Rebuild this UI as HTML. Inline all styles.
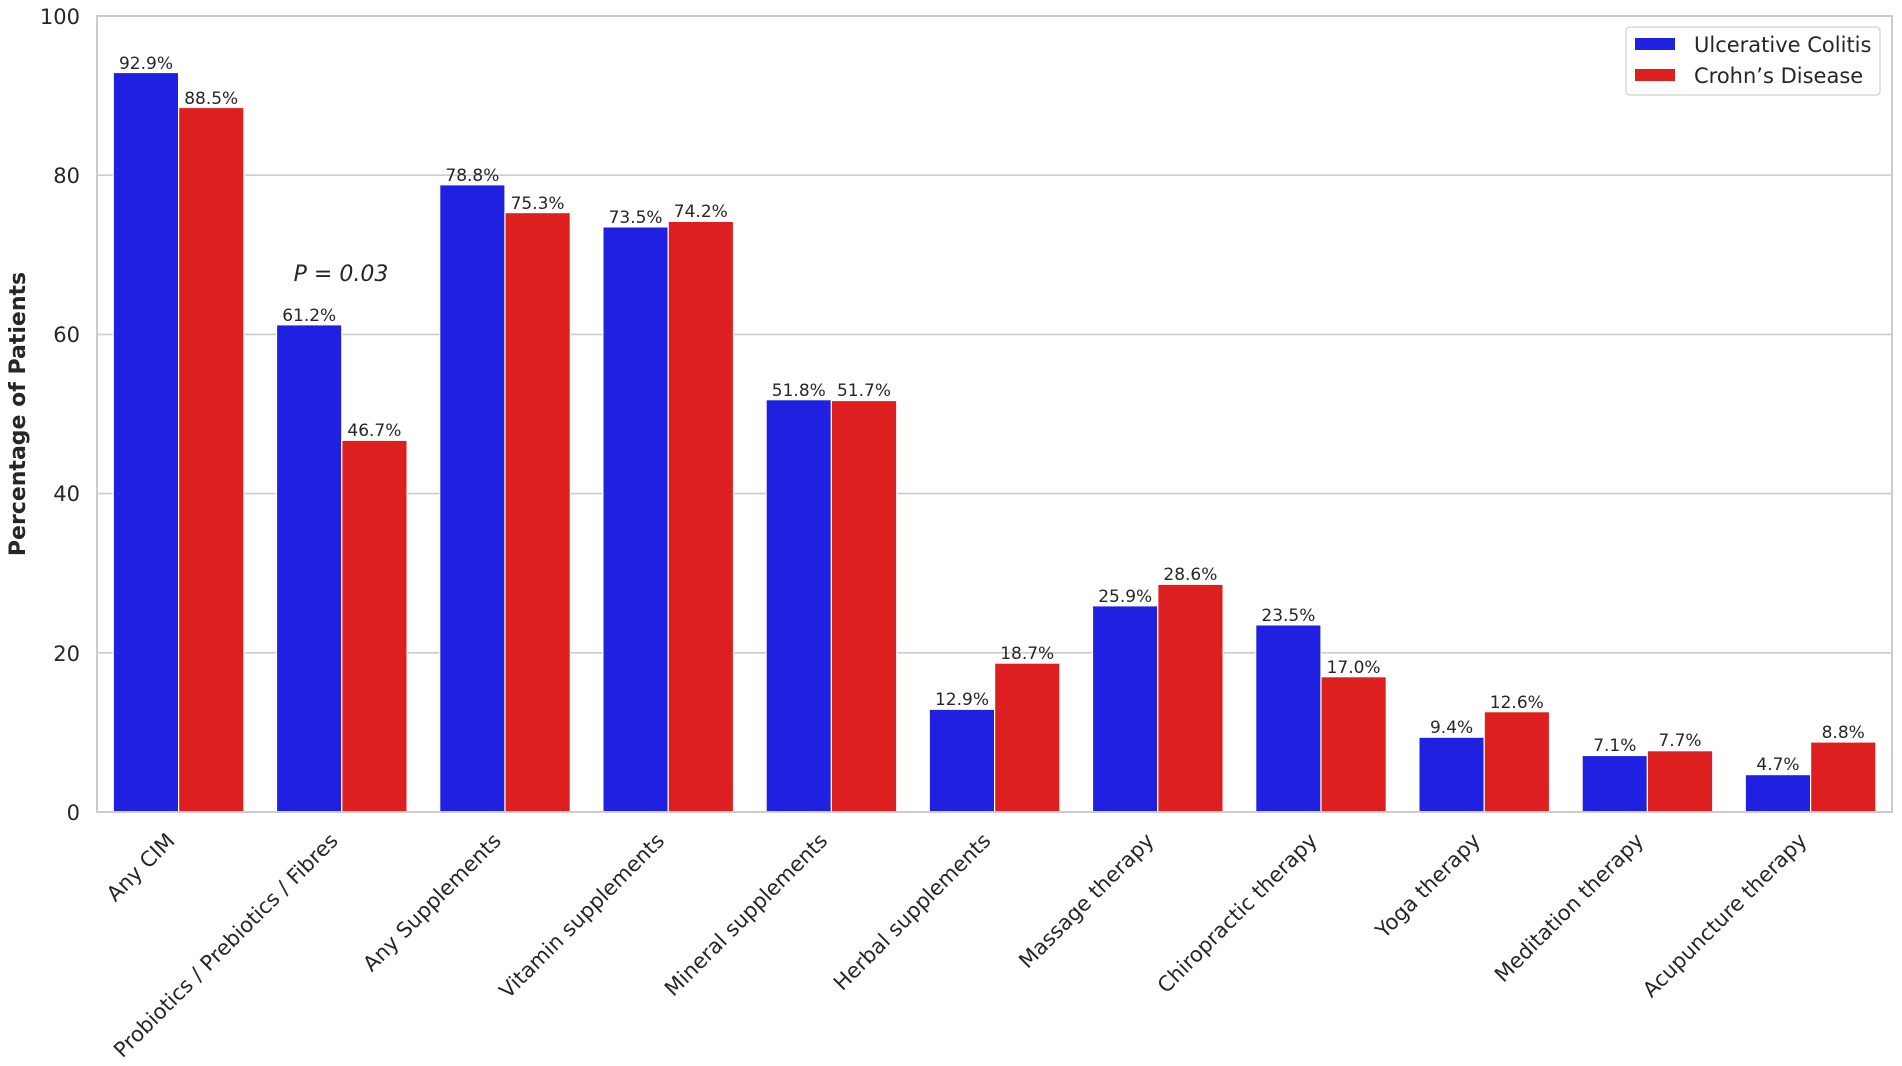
<!DOCTYPE html>
<html><head><meta charset="utf-8"><style>
html,body{margin:0;padding:0;background:#fff}
svg{display:block}
text{font-family:"DejaVu Sans","Liberation Sans",sans-serif;fill:#262626}
.v{font-size:17px;text-anchor:middle}
.t{font-size:21px;text-anchor:end}
.y{font-size:21px;text-anchor:end}
</style></head><body>
<svg width="1902" height="1066" viewBox="0 0 1902 1066" xmlns="http://www.w3.org/2000/svg">
<g stroke="#cccccc" stroke-width="1.6">
<line x1="97" y1="175.2" x2="1892" y2="175.2"/>
<line x1="97" y1="334.4" x2="1892" y2="334.4"/>
<line x1="97" y1="493.6" x2="1892" y2="493.6"/>
<line x1="97" y1="652.8" x2="1892" y2="652.8"/>
</g>
<g>
<text class="y" x="80" y="24">100</text>
<text class="y" x="80" y="183">80</text>
<text class="y" x="80" y="342">60</text>
<text class="y" x="80" y="501">40</text>
<text class="y" x="80" y="661">20</text>
<text class="y" x="80" y="820">0</text>
</g>
<text x="25" y="414" transform="rotate(-90 25 414)" style="font-size:22px;font-weight:bold;text-anchor:middle">Percentage of Patients</text>
<g stroke="#fff" stroke-width="1.2">
<g fill="#2020e0">
<rect x="113.3" y="72.5" width="65.3" height="739.5"/>
<rect x="276.5" y="324.8" width="65.3" height="487.2"/>
<rect x="439.7" y="184.8" width="65.3" height="627.2"/>
<rect x="602.9" y="226.9" width="65.3" height="585.1"/>
<rect x="766.1" y="399.7" width="65.3" height="412.3"/>
<rect x="929.3" y="709.3" width="65.3" height="102.7"/>
<rect x="1092.5" y="605.8" width="65.3" height="206.2"/>
<rect x="1255.7" y="624.9" width="65.3" height="187.1"/>
<rect x="1418.9" y="737.2" width="65.3" height="74.8"/>
<rect x="1582.1" y="755.5" width="65.3" height="56.5"/>
<rect x="1745.3" y="774.6" width="65.3" height="37.4"/>
</g>
<g fill="#de1f1f">
<rect x="178.6" y="107.5" width="65.3" height="704.5"/>
<rect x="341.8" y="440.3" width="65.3" height="371.7"/>
<rect x="505.0" y="212.6" width="65.3" height="599.4"/>
<rect x="668.2" y="221.4" width="65.3" height="590.6"/>
<rect x="831.4" y="400.5" width="65.3" height="411.5"/>
<rect x="994.6" y="663.1" width="65.3" height="148.9"/>
<rect x="1157.8" y="584.3" width="65.3" height="227.7"/>
<rect x="1321.0" y="676.7" width="65.3" height="135.3"/>
<rect x="1484.2" y="711.7" width="65.3" height="100.3"/>
<rect x="1647.4" y="750.7" width="65.3" height="61.3"/>
<rect x="1810.6" y="742.0" width="65.3" height="70.0"/>
</g>
</g>
<g>
<text class="v" x="146" y="69">92.9%</text>
<text class="v" x="309.2" y="321">61.2%</text>
<text class="v" x="472.4" y="181">78.8%</text>
<text class="v" x="635.6" y="223">73.5%</text>
<text class="v" x="798.8" y="396">51.8%</text>
<text class="v" x="962" y="705">12.9%</text>
<text class="v" x="1125.2" y="602">25.9%</text>
<text class="v" x="1288.4" y="621">23.5%</text>
<text class="v" x="1451.6" y="733">9.4%</text>
<text class="v" x="1614.8" y="751">7.1%</text>
<text class="v" x="1778" y="770">4.7%</text>
<text class="v" x="211.2" y="104">88.5%</text>
<text class="v" x="374.4" y="436">46.7%</text>
<text class="v" x="537.6" y="209">75.3%</text>
<text class="v" x="700.8" y="217">74.2%</text>
<text class="v" x="864" y="396">51.7%</text>
<text class="v" x="1027.2" y="659">18.7%</text>
<text class="v" x="1190.4" y="580">28.6%</text>
<text class="v" x="1353.6" y="673">17.0%</text>
<text class="v" x="1516.8" y="708">12.6%</text>
<text class="v" x="1680" y="746">7.7%</text>
<text class="v" x="1843.2" y="738">8.8%</text>
</g>
<text x="341" y="281" style="font-size:22px;font-style:italic;text-anchor:middle">P = 0.03</text>
<g fill="none" stroke="#cccccc" stroke-width="2">
<rect x="97" y="16" width="1795" height="796"/>
</g>
<g>
<text class="t" transform="translate(176 842) rotate(-45)">Any CIM</text>
<text class="t" transform="translate(339.2 842) rotate(-45)">Probiotics / Prebiotics / Fibres</text>
<text class="t" transform="translate(502.4 842) rotate(-45)">Any Supplements</text>
<text class="t" transform="translate(665.6 842) rotate(-45)">Vitamin supplements</text>
<text class="t" transform="translate(828.8 842) rotate(-45)">Mineral supplements</text>
<text class="t" transform="translate(992 842) rotate(-45)">Herbal supplements</text>
<text class="t" transform="translate(1155.2 842) rotate(-45)">Massage therapy</text>
<text class="t" transform="translate(1318.4 842) rotate(-45)">Chiropractic therapy</text>
<text class="t" transform="translate(1481.6 842) rotate(-45)">Yoga therapy</text>
<text class="t" transform="translate(1644.8 842) rotate(-45)">Meditation therapy</text>
<text class="t" transform="translate(1808 842) rotate(-45)">Acupuncture therapy</text>
</g>
<rect x="1626" y="27" width="254" height="68" rx="4" fill="#fff" fill-opacity="0.85" stroke="#d0d0d0" stroke-width="1.2"/>
<rect x="1635" y="38" width="40" height="12" fill="#2020e0"/>
<rect x="1635" y="69" width="40" height="12" fill="#de1f1f"/>
<text x="1694" y="52" style="font-size:21px">Ulcerative Colitis</text>
<text x="1694" y="83" style="font-size:21px">Crohn’s Disease</text>
</svg>
</body></html>
